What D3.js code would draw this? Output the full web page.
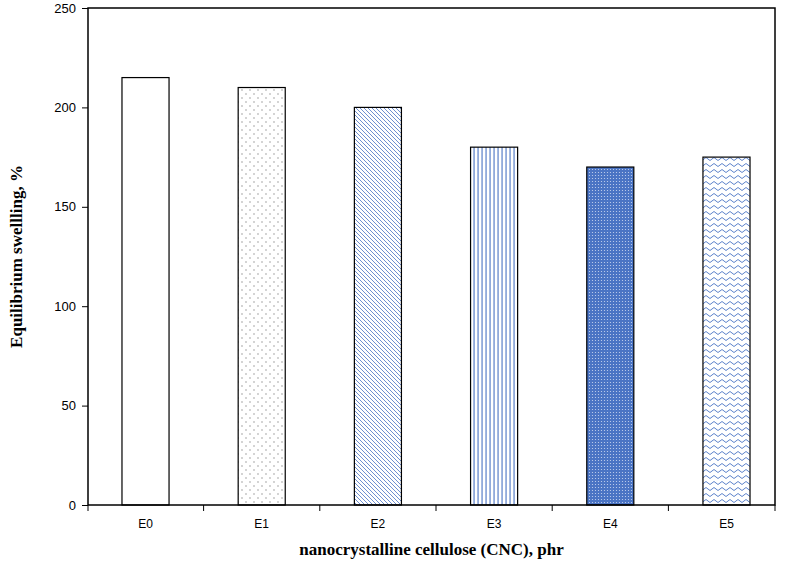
<!DOCTYPE html><html><head><script src="https://d3js.org/d3.v7.min.js"></script>
<style>body{margin:0;background:#fff}</style></head><body><svg width="785" height="573"></svg>
<script>
const categories=["E0","E1","E2","E3","E4","E5"];
const values=[215,210,200,180,170,175];
const yTicks=[0,50,100,150,200,250];
const svg=d3.select("svg");
const L=88,R=775,T=8,B=505;
const x=d3.scaleBand().domain(categories).range([L+9,R]).paddingInner(0.595).paddingOuter(0.215);
const y=d3.scaleLinear().domain([0,250]).range([B,T]);
const defs=svg.append("defs");
const blue="#4a74c4";
function pat(id,w,h,draw){const p=defs.append("pattern").attr("id",id).attr("patternUnits","userSpaceOnUse").attr("width",w).attr("height",h);p.append("rect").attr("width",w).attr("height",h).attr("fill","#fff");draw(p);return `url(#${id})`;}
const fills=[
 "#fff",
 pat("dots",8,8,p=>{p.append("circle").attr("cx",2).attr("cy",2).attr("r",0.7).attr("fill","#888");p.append("circle").attr("cx",6).attr("cy",6).attr("r",0.7).attr("fill","#888");}),
 pat("diag",4,4,p=>{p.append("path").attr("d","M-1,-1L5,5M-1,3L1,5M3,-1L5,1").attr("stroke",blue).attr("stroke-width",0.8);}),
 pat("vert",4,4,p=>{p.append("rect").attr("x",1.5).attr("width",1.1).attr("height",4).attr("fill",blue);}),
 pat("dense",3,3,p=>{p.select("rect").attr("fill",blue);p.append("circle").attr("cx",1.5).attr("cy",1.5).attr("r",0.6).attr("fill","#c8d6f0");}),
 pat("wave",8,6,p=>{p.append("path").attr("d","M0,3Q2,0 4,3T8,3").attr("fill","none").attr("stroke",blue).attr("stroke-width",0.9);})
];
svg.selectAll(".bar").data(values).join("rect").attr("x",(d,i)=>x(categories[i])).attr("y",d=>y(d))
 .attr("width",x.bandwidth()).attr("height",d=>B-y(d)).attr("fill",(d,i)=>fills[i]).attr("stroke","#000").attr("stroke-width",1.2);
svg.append("rect").attr("x",L).attr("y",T).attr("width",R-L).attr("height",B-T).attr("fill","none").attr("stroke","#000").attr("stroke-width",1.5);
const ya=svg.append("g").attr("transform",`translate(${L},0)`).call(d3.axisLeft(y).tickValues(yTicks).tickSize(6).tickPadding(6));
ya.select(".domain").remove();
ya.selectAll("text").attr("font-family","Liberation Sans, Arial").attr("font-size",13);
const xa=svg.append("g").attr("transform",`translate(0,${B})`);
const step=x.step();
const bounds=d3.range(7).map(i=>i===0?L:(i===6?R:x(categories[i])-(step-x.bandwidth())/2));
xa.selectAll("line").data(bounds).join("line").attr("x1",d=>d).attr("x2",d=>d).attr("y1",0).attr("y2",6).attr("stroke","#000");
xa.selectAll("text").data(categories).join("text").attr("x",d=>x(d)+x.bandwidth()/2).attr("y",23).attr("text-anchor","middle")
 .attr("font-family","Liberation Sans, Arial").attr("font-size",12).text(d=>d);
svg.append("text").attr("x",(L+R)/2).attr("y",555).attr("text-anchor","middle").attr("font-family","Liberation Serif, Times New Roman").attr("font-weight","bold").attr("font-size",17).text("nanocrystalline cellulose (CNC), phr");
svg.append("text").attr("transform",`translate(22,${(T+B)/2}) rotate(-90)`).attr("text-anchor","middle").attr("font-family","Liberation Serif, Times New Roman").attr("font-weight","bold").attr("font-size",17).text("Equilibrium swellling,  %");
</script></body></html>
